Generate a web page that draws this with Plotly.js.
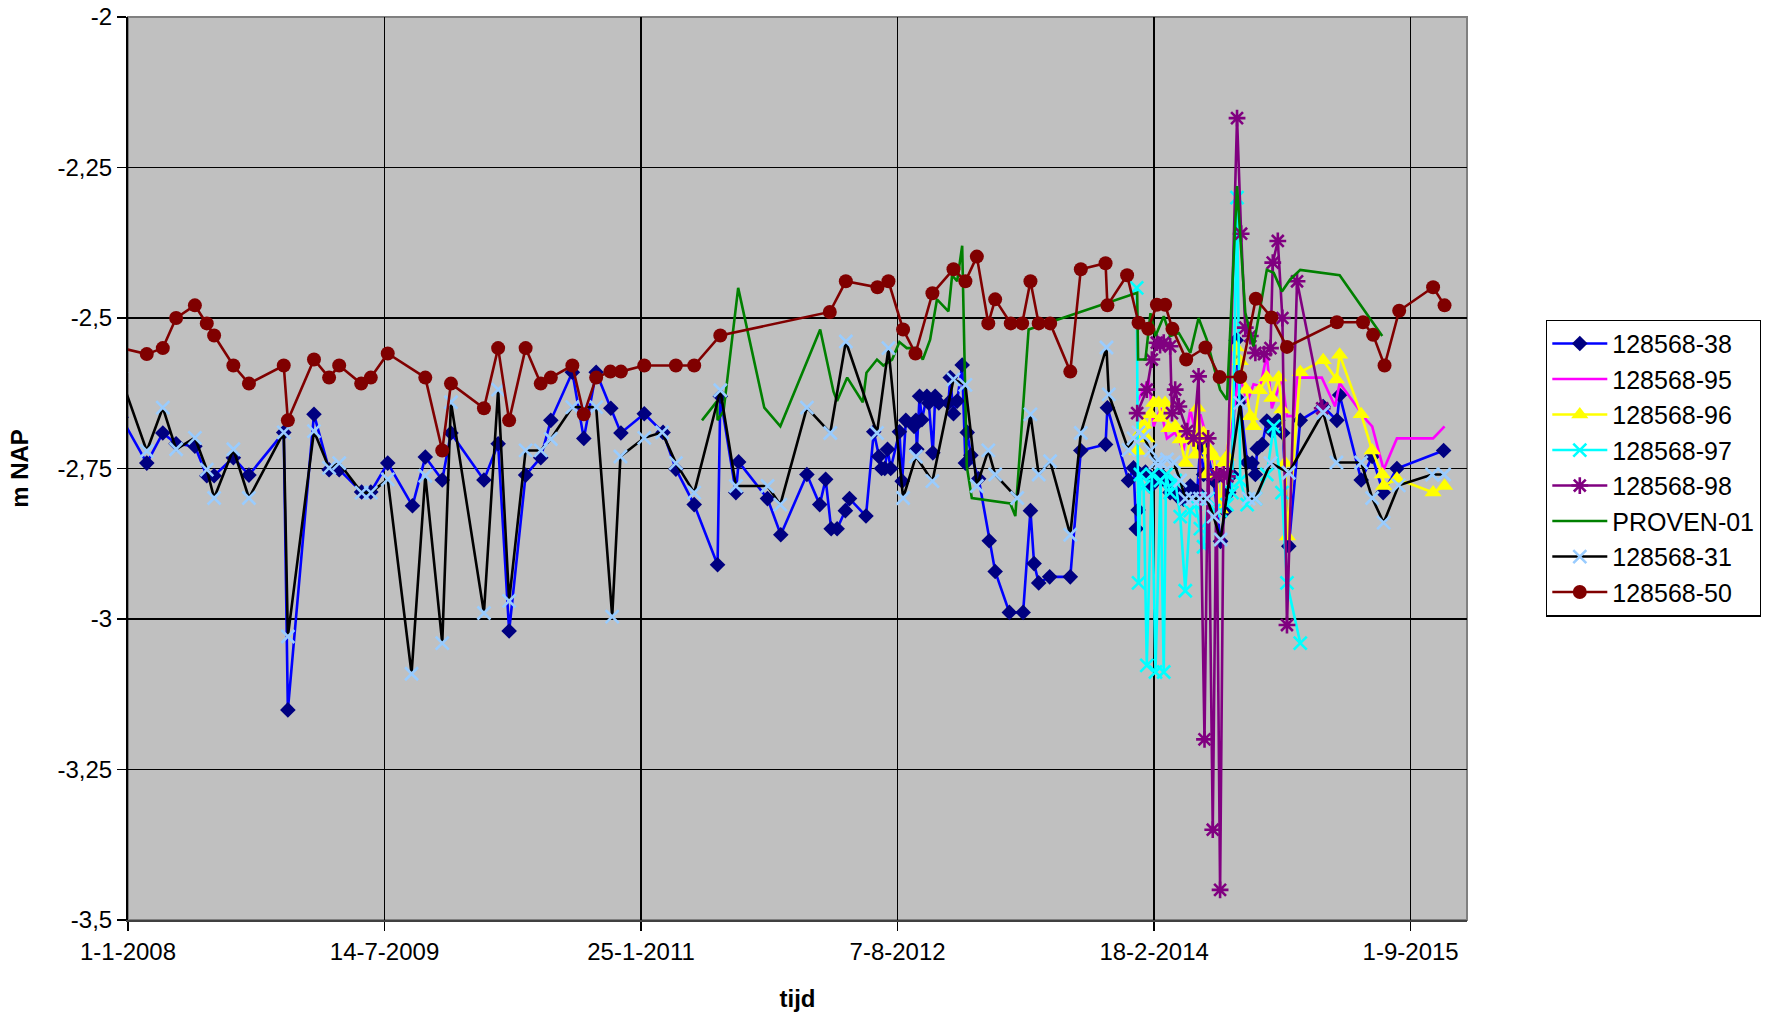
<!DOCTYPE html>
<html>
<head>
<meta charset="utf-8">
<script src="https://cdn.plot.ly/plotly-3.0.1.min.js"></script>
<style>html,body{margin:0;padding:0;background:#fff;}#chart{width:1775px;height:1019px;}</style>
</head>
<body>
<div id="chart"></div>
<script>
// dates are stored as days since 1-1-2008
const START = Date.UTC(2008, 0, 1);

const dag38 = [-15,41,76,105,146,172,188,230,264,340,349,406,439,461,510,530,567,621,649,686,705,777,808,832,868,901,923,970,995,1022,1054,1076,1127,1168,1196,1236,1287,1293,1327,1333,1396,1425,1482,1510,1523,1535,1548,1566,1575,1611,1628,1639,1645,1652,1658,1665,1684,1690,1698,1716,1720,1722,1728,1733,1744,1748,1757,1762,1770,1791,1795,1802,1810,1821,1828,1832,1840,1857,1880,1893,1924,1954,1970,1978,1988,2012,2057,2080,2134,2138,2184,2195,2201,2205,2210,2221,2232,2243,2255,2264,2275,2286,2296,2304,2312,2319,2334,2341,2348,2355,2370,2385,2395,2403,2410,2419,2428,2443,2454,2461,2465,2476,2486,2497,2510,2521,2534,2559,2609,2639,2645,2692,2716,2740,2770,2872];
const nap38 = [-2.665,-2.741,-2.691,-2.709,-2.713,-2.762,-2.762,-2.732,-2.761,-2.690,-3.151,-2.660,-2.752,-2.752,-2.789,-2.789,-2.741,-2.812,-2.731,-2.769,-2.691,-2.769,-2.709,-3.020,-2.761,-2.732,-2.670,-2.590,-2.700,-2.590,-2.650,-2.691,-2.659,-2.690,-2.751,-2.810,-2.910,-2.630,-2.790,-2.739,-2.800,-2.860,-2.760,-2.810,-2.768,-2.850,-2.850,-2.820,-2.800,-2.829,-2.689,-2.730,-2.750,-2.750,-2.718,-2.750,-2.689,-2.771,-2.670,-2.680,-2.670,-2.718,-2.630,-2.669,-2.630,-2.641,-2.724,-2.630,-2.641,-2.641,-2.599,-2.659,-2.638,-2.578,-2.741,-2.690,-2.728,-2.767,-2.870,-2.921,-2.989,-2.989,-2.820,-2.908,-2.940,-2.930,-2.930,-2.720,-2.710,-2.649,-2.770,-2.749,-2.850,-2.819,-2.760,-2.756,-2.780,-2.771,-2.760,-2.771,-2.790,-2.788,-2.800,-2.801,-2.790,-2.779,-2.788,-2.710,-2.760,-2.718,-2.770,-2.871,-2.820,-2.790,-2.760,-2.537,-2.638,-2.740,-2.741,-2.760,-2.717,-2.710,-2.671,-2.688,-2.670,-2.691,-2.879,-2.670,-2.647,-2.670,-2.628,-2.769,-2.730,-2.790,-2.750,-2.720];

const dag95 = [2203,2214,2228,2239,2254,2268,2286,2304,2319,2330,2341,2355,2370,2385,2399,2410,2425,2443,2457,2472,2486,2497,2519,2530,2545,2552,2606,2635,2645,2705,2716,2741,2770,2849,2874];
const nap95 = [-2.640,-2.624,-2.602,-2.680,-2.650,-2.700,-2.690,-2.720,-2.652,-2.690,-2.660,-2.700,-2.740,-2.760,-2.720,-2.680,-2.591,-2.640,-2.610,-2.613,-2.561,-2.650,-2.600,-2.663,-2.663,-2.599,-2.599,-2.647,-2.608,-2.671,-2.680,-2.752,-2.700,-2.700,-2.680];

const dag96 = [2203,2210,2217,2224,2232,2239,2250,2254,2264,2272,2286,2297,2308,2319,2330,2335,2344,2348,2354,2362,2370,2385,2392,2399,2419,2428,2441,2450,2457,2470,2486,2497,2512,2519,2526,2531,2559,2609,2638,2645,2692,2716,2738,2741,2770,2849,2874];
const nap96 = [-2.721,-2.690,-2.677,-2.700,-2.660,-2.641,-2.641,-2.666,-2.641,-2.683,-2.680,-2.702,-2.741,-2.700,-2.727,-2.649,-2.700,-2.691,-2.760,-2.720,-2.730,-2.818,-2.741,-2.730,-2.549,-2.572,-2.619,-2.663,-2.680,-2.620,-2.599,-2.633,-2.599,-2.652,-2.741,-2.863,-2.590,-2.570,-2.602,-2.561,-2.660,-2.720,-2.760,-2.779,-2.767,-2.790,-2.779];

const dag97 = [2202,2206,2210,2217,2224,2235,2243,2254,2261,2266,2275,2286,2297,2308,2319,2330,2341,2348,2358,2370,2385,2399,2410,2421,2428,2443,2461,2486,2501,2519,2530,2559];
const nap97 = [-2.450,-2.940,-2.760,-2.780,-3.077,-2.760,-3.088,-2.770,-3.088,-2.760,-2.790,-2.770,-2.830,-2.953,-2.820,-2.810,-2.850,-2.880,-2.800,-2.820,-2.820,-2.810,-2.790,-2.300,-2.770,-2.810,-2.800,-2.760,-2.680,-2.790,-2.940,-3.040];

const dag98 = [2203,2224,2235,2246,2253,2261,2275,2279,2286,2294,2312,2326,2337,2350,2358,2368,2376,2384,2392,2400,2421,2430,2439,2450,2461,2480,2494,2499,2510,2520,2530,2552,2607];
const nap98 = [-2.658,-2.619,-2.569,-2.541,-2.545,-2.541,-2.547,-2.658,-2.619,-2.647,-2.688,-2.700,-2.597,-3.200,-2.700,-3.350,-2.760,-3.450,-2.760,-2.763,-2.168,-2.360,-2.516,-2.530,-2.558,-2.560,-2.550,-2.408,-2.372,-2.500,-3.010,-2.439,-2.650];

const dagP01 = [1253,1286,1287,1300,1332,1389,1424,1511,1540,1548,1570,1604,1612,1635,1649,1668,1684,1700,1722,1735,1751,1766,1791,1799,1810,1821,1831,1842,1926,1937,1966,2203,2205,2221,2232,2243,2261,2275,2294,2319,2337,2355,2370,2384,2399,2421,2439,2457,2486,2501,2519,2537,2559,2645,2738];
const napP01 = [-2.670,-2.638,-2.670,-2.655,-2.450,-2.649,-2.680,-2.519,-2.622,-2.638,-2.599,-2.640,-2.591,-2.569,-2.579,-2.569,-2.540,-2.550,-2.550,-2.569,-2.536,-2.469,-2.489,-2.429,-2.439,-2.380,-2.746,-2.799,-2.808,-2.829,-2.519,-2.458,-2.569,-2.569,-2.492,-2.530,-2.497,-2.530,-2.525,-2.558,-2.500,-2.536,-2.580,-2.619,-2.636,-2.281,-2.491,-2.547,-2.420,-2.425,-2.456,-2.436,-2.420,-2.429,-2.530];

const dag31 = [-15,41,76,105,146,172,188,230,264,340,349,406,439,461,510,530,567,619,649,686,705,777,808,832,868,901,923,970,995,1022,1057,1075,1127,1166,1196,1236,1293,1327,1396,1424,1482,1533,1567,1635,1660,1692,1720,1756,1802,1828,1853,1878,1893,1941,1970,1988,2013,2057,2080,2136,2141,2184,2195,2206,2217,2232,2243,2254,2268,2283,2297,2308,2323,2340,2355,2370,2385,2428,2446,2461,2494,2534,2609,2638,2692,2716,2741,2774,2847,2873];
const nap31 = [-2.600,-2.721,-2.649,-2.718,-2.699,-2.752,-2.799,-2.718,-2.799,-2.690,-3.029,-2.688,-2.749,-2.741,-2.790,-2.790,-2.768,-3.091,-2.762,-3.040,-2.640,-2.990,-2.619,-2.970,-2.720,-2.720,-2.701,-2.648,-2.648,-2.648,-2.996,-2.730,-2.699,-2.690,-2.741,-2.790,-2.620,-2.779,-2.779,-2.810,-2.649,-2.691,-2.539,-2.691,-2.550,-2.799,-2.730,-2.771,-2.602,-2.611,-2.779,-2.720,-2.760,-2.799,-2.660,-2.760,-2.738,-2.860,-2.691,-2.549,-2.627,-2.719,-2.700,-2.690,-2.696,-2.720,-2.740,-2.740,-2.735,-2.740,-2.770,-2.800,-2.800,-2.800,-2.800,-2.830,-2.868,-2.641,-2.800,-2.800,-2.741,-2.757,-2.657,-2.740,-2.740,-2.799,-2.840,-2.778,-2.760,-2.760];

const dag50 = [-20,41,76,105,146,172,188,230,264,340,349,406,439,461,509,530,567,649,686,705,777,808,832,868,901,923,970,995,1022,1053,1076,1127,1196,1236,1293,1532,1567,1636,1660,1692,1719,1756,1802,1828,1853,1878,1893,1927,1952,1970,1988,2013,2057,2080,2134,2138,2181,2206,2227,2246,2264,2280,2310,2352,2383,2428,2462,2496,2530,2639,2696,2718,2743,2775,2849,2874];
const nap50 = [-2.549,-2.560,-2.550,-2.500,-2.479,-2.509,-2.529,-2.579,-2.609,-2.579,-2.670,-2.569,-2.599,-2.579,-2.609,-2.599,-2.559,-2.599,-2.720,-2.609,-2.650,-2.550,-2.670,-2.550,-2.609,-2.599,-2.579,-2.660,-2.599,-2.589,-2.589,-2.579,-2.579,-2.579,-2.529,-2.490,-2.439,-2.449,-2.439,-2.519,-2.559,-2.459,-2.419,-2.439,-2.398,-2.509,-2.469,-2.509,-2.509,-2.439,-2.509,-2.509,-2.589,-2.419,-2.409,-2.479,-2.429,-2.508,-2.518,-2.478,-2.478,-2.518,-2.569,-2.549,-2.598,-2.598,-2.468,-2.499,-2.548,-2.507,-2.507,-2.528,-2.579,-2.488,-2.449,-2.479];

const tickDays = [0,560,1120,1680,2240,2800];
const tickTextX = ['1-1-2008','14-7-2009','25-1-2011','7-8-2012','18-2-2014','1-9-2015'];
const tickValsY = [-3.5,-3.25,-3,-2.75,-2.5,-2.25,-2];
const tickTextY = ['-3,5','-3,25','-3','-2,75','-2,5','-2,25','-2'];

function toDate(d){ return new Date(START + d*86400000).toISOString().slice(0,10); }
const dates = a => a.map(toDate);

const LW = 2.6;
const traces = [
  {name:'128568-38', x:dates(dag38), y:nap38, mode:'lines+markers',
   line:{color:'#0000FF', width:LW}, marker:{symbol:'diamond', size:12, color:'#000080'}},
  {name:'128568-95', x:dates(dag95), y:nap95, mode:'lines',
   line:{color:'#FF00FF', width:LW}},
  {name:'128568-96', x:dates(dag96), y:nap96, mode:'lines+markers',
   line:{color:'#FFFF00', width:LW}, marker:{symbol:'triangle-up', size:15, color:'#FFFF00'}},
  {name:'128568-97', x:dates(dag97), y:nap97, mode:'lines+markers',
   line:{color:'#00FFFF', width:LW}, marker:{symbol:'x-thin-open', size:13, color:'#00FFFF', line:{color:'#00FFFF', width:2.6}}},
  {name:'128568-98', x:dates(dag98), y:nap98, mode:'lines+markers',
   line:{color:'#800080', width:LW}, marker:{symbol:'asterisk-open', size:14, color:'#800080', line:{color:'#800080', width:2.6}}},
  {name:'PROVEN-01', x:dates(dagP01), y:napP01, mode:'lines',
   line:{color:'#008000', width:LW}},
  {name:'128568-31', x:dates(dag31), y:nap31, mode:'lines+markers',
   line:{color:'#000000', width:LW}, marker:{symbol:'x-thin-open', size:13, color:'#99CCFF', line:{color:'#99CCFF', width:2.6}}},
  {name:'128568-50', x:dates(dag50), y:nap50, mode:'lines+markers',
   line:{color:'#800000', width:LW}, marker:{symbol:'circle', size:14, color:'#800000'}}
];

const FONT = 'Liberation Sans, Arial, sans-serif';
const layout = {
  width:1775, height:1019,
  margin:{l:128, r:308, t:17, b:99},
  paper_bgcolor:'#FFFFFF', plot_bgcolor:'#C0C0C0',
  font:{family:FONT, size:24, color:'#000'},
  showlegend:true,
  legend:{x:1.059, y:0.665, xanchor:'left', yanchor:'top', bgcolor:'#FFFFFF',
          bordercolor:'#000000', borderwidth:1.3, font:{family:FONT, size:25, color:'#000'},
          itemwidth:55, tracegroupgap:0},
  xaxis:{type:'date', range:[toDate(0), toDate(2923)], tickmode:'array',
         tickvals:dates(tickDays), ticktext:tickTextX,
         showgrid:true, gridcolor:'#000000', gridwidth:1.3,
         showline:true, linecolor:'#404040', linewidth:2,
         ticks:'outside', ticklen:9, tickwidth:1.3, tickcolor:'#000',
         zeroline:false, tickfont:{family:FONT, size:24},
         title:{text:'<b>tijd</b>', font:{family:FONT, size:24}, standoff:26}},
  yaxis:{range:[-3.5,-2], tickmode:'array', tickvals:tickValsY, ticktext:tickTextY,
         showgrid:true, gridcolor:'#000000', gridwidth:1.3,
         showline:true, linecolor:'#000000', linewidth:2,
         ticks:'outside', ticklen:9, tickwidth:1.3, tickcolor:'#000',
         zeroline:false, tickfont:{family:FONT, size:24},
         title:{text:'<b>m NAP</b>', font:{family:FONT, size:24}, standoff:22}},
  shapes:[{type:'rect', xref:'paper', yref:'paper', x0:0, x1:1, y0:0, y1:1,
           line:{color:'#808080', width:2}, layer:'below'}]
};

Plotly.newPlot('chart', traces, layout, {displayModeBar:false, staticPlot:true});
</script>
</body>
</html>
